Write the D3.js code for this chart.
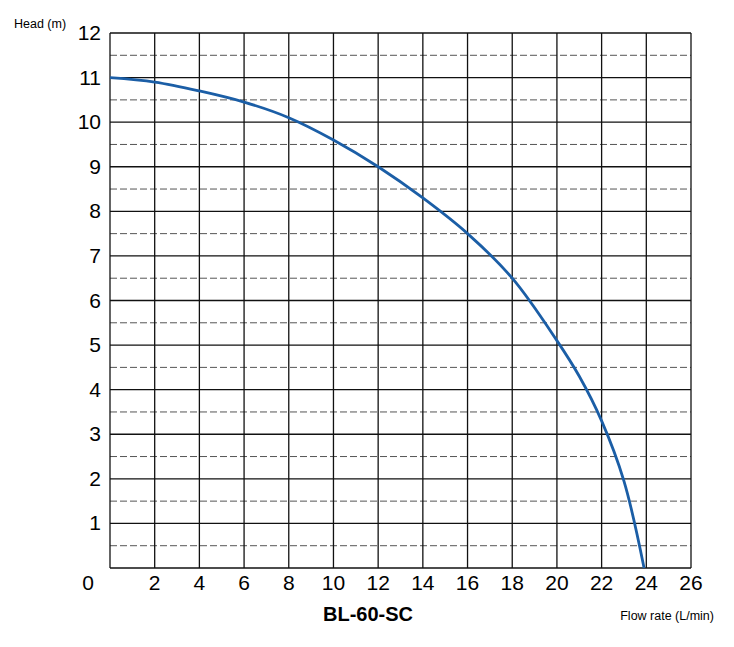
<!DOCTYPE html>
<html><head><meta charset="utf-8">
<script src="https://cdn.jsdelivr.net/npm/d3@7"></script>
<style>body{margin:0;background:#fff;font-family:"Liberation Sans",Arial,sans-serif}</style>
</head><body>
<div id="chart"></div>
<script>
const xTicks = [0,2,4,6,8,10,12,14,16,18,20,22,24,26];
const yTicks = [0,1,2,3,4,5,6,7,8,9,10,11,12];
const flow = [0,2,4,6,8,10,12,14,16,18,20,21,22,23,23.9];
const head = [11,10.9,10.7,10.45,10.1,9.6,9.0,8.3,7.5,6.5,5.1,4.3,3.3,1.95,0];

const W = 734, H = 647;
const svg = d3.select("#chart").append("svg").attr("width", W).attr("height", H);
const x = d3.scaleLinear().domain([0,26]).range([110,691]);
const y = d3.scaleLinear().domain([0,12]).range([568,33]);

// dashed half-unit lines
svg.append("g").selectAll("line").data(yTicks.slice(0,-1).map(v => v + 0.5)).enter().append("line")
    .attr("x1", x(0)).attr("x2", x(26)).attr("y1", d => y(d)).attr("y2", d => y(d))
    .attr("stroke", "#555").attr("stroke-width", 1).attr("stroke-dasharray", "7,3");
// solid grid
svg.append("g").selectAll("line").data(yTicks).enter().append("line")
    .attr("x1", x(0)).attr("x2", x(26)).attr("y1", d => y(d)).attr("y2", d => y(d))
    .attr("stroke", "#111").attr("stroke-width", 1.3);
svg.append("g").selectAll("line").data(xTicks).enter().append("line")
    .attr("x1", d => x(d)).attr("x2", d => x(d)).attr("y1", y(0)).attr("y2", y(12))
    .attr("stroke", "#111").attr("stroke-width", 1.3);

// tick labels
svg.append("g").selectAll("text").data(yTicks.slice(1)).enter().append("text")
    .attr("x", 101).attr("y", d => y(d) + 7).attr("text-anchor", "end")
    .attr("font-size", 21).text(d => d);
svg.append("g").selectAll("text").data(xTicks.slice(1)).enter().append("text")
    .attr("x", d => x(d)).attr("y", 590).attr("text-anchor", "middle")
    .attr("font-size", 21).text(d => d);
svg.append("text").attr("x", 88).attr("y", 590).attr("text-anchor", "middle").attr("font-size", 21).text("0");

svg.append("text").attr("x", 14).attr("y", 28).attr("font-size", 12.5).text("Head (m)");
svg.append("text").attr("x", 368).attr("y", 621).attr("text-anchor", "middle")
    .attr("font-size", 20).attr("font-weight", "bold").text("BL-60-SC");
svg.append("text").attr("x", 714).attr("y", 620).attr("text-anchor", "end").attr("font-size", 12.5).text("Flow rate (L/min)");

// curve
const pts = flow.map((f, i) => [f, head[i]]);
svg.append("path").datum(pts)
    .attr("d", d3.line().x(d => x(d[0])).y(d => y(d[1])).curve(d3.curveCatmullRom.alpha(0.5)))
    .attr("fill", "none").attr("stroke", "#1b5ea6").attr("stroke-width", 2.8);
</script>
</body></html>
